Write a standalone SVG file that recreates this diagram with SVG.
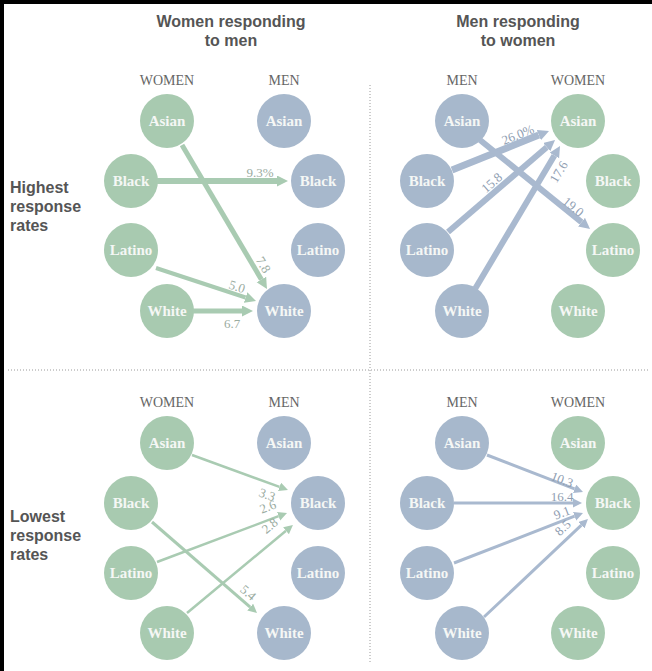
<svg xmlns="http://www.w3.org/2000/svg" width="652" height="671" viewBox="0 0 652 671">
<style>
.hd{font-family:"Liberation Sans",Arial,sans-serif;font-weight:700;font-size:16px;fill:#555;text-anchor:middle}
.side{font-family:"Liberation Sans",Arial,sans-serif;font-weight:700;font-size:16px;fill:#555}
.col{font-family:"Liberation Serif",serif;font-size:14px;fill:#666;text-anchor:middle}
.g circle{fill:#a8cab0}
.b circle{fill:#a7b8cc}
.node text{font-family:"Liberation Serif",serif;font-weight:700;font-size:15px;fill:#f5f7f5;text-anchor:middle}
.ag{stroke:#a9cbb2;fill:none}
.ab{stroke:#a9b9cf;fill:none}
.ng{font-family:"Liberation Serif",serif;font-size:13px;fill:#9aab9f;text-anchor:middle}
.nb{font-family:"Liberation Serif",serif;font-size:13px;fill:#8f9eb2;text-anchor:middle}
.div{stroke:#9a9a9a;stroke-width:1;stroke-dasharray:1 2;fill:none}
</style>
<defs>
<marker id="hgB" markerUnits="userSpaceOnUse" markerWidth="12" markerHeight="12" refX="0" refY="5.5" orient="auto"><path d="M0,0 L11,5.5 L0,11 z" fill="#a9cbb2"/></marker>
<marker id="hbB" markerUnits="userSpaceOnUse" markerWidth="12" markerHeight="12" refX="0" refY="5.5" orient="auto"><path d="M0,0 L11,5.5 L0,11 z" fill="#a9b9cf"/></marker>
<marker id="hgS" markerUnits="userSpaceOnUse" markerWidth="10" markerHeight="10" refX="0" refY="4.5" orient="auto"><path d="M0,0 L9,4.5 L0,9 z" fill="#a9cbb2"/></marker>
<marker id="hbS" markerUnits="userSpaceOnUse" markerWidth="10" markerHeight="10" refX="0" refY="4.5" orient="auto"><path d="M0,0 L9,4.5 L0,9 z" fill="#a9b9cf"/></marker>
</defs>
<rect x="0" y="0" width="652" height="671" fill="#fff"/>
<rect x="0" y="0" width="652" height="4" fill="#000"/>
<rect x="0" y="0" width="4" height="671" fill="#000"/>

<g id="headers">
<text class="hd" x="231" y="27">Women responding</text>
<text class="hd" x="231" y="46">to men</text>
<text class="hd" x="518" y="27">Men responding</text>
<text class="hd" x="518" y="46">to women</text>
<text class="side" x="10" y="193">Highest</text>
<text class="side" x="10" y="212">response</text>
<text class="side" x="10" y="231">rates</text>
<text class="side" x="10" y="522">Lowest</text>
<text class="side" x="10" y="541">response</text>
<text class="side" x="10" y="560">rates</text>
<text class="col" x="167" y="85">WOMEN</text>
<text class="col" x="284" y="85">MEN</text>
<text class="col" x="462" y="85">MEN</text>
<text class="col" x="578" y="85">WOMEN</text>
<text class="col" x="167" y="407">WOMEN</text>
<text class="col" x="284" y="407">MEN</text>
<text class="col" x="462" y="407">MEN</text>
<text class="col" x="578" y="407">WOMEN</text>
</g>

<g id="dividers">
<line class="div" x1="370" y1="85" x2="370" y2="662"/>
<line class="div" x1="8" y1="370" x2="648" y2="370"/>
</g>

<!-- top-left -->
<g id="tl-w-asian" class="node g"><circle cx="167" cy="121" r="27"/><text x="167" y="126">Asian</text></g>
<g id="tl-w-black" class="node g"><circle cx="131" cy="181" r="27"/><text x="131" y="186">Black</text></g>
<g id="tl-w-latino" class="node g"><circle cx="131" cy="250" r="27"/><text x="131" y="255">Latino</text></g>
<g id="tl-w-white" class="node g"><circle cx="167" cy="311" r="27"/><text x="167" y="316">White</text></g>
<g id="tl-m-asian" class="node b"><circle cx="284" cy="121" r="27"/><text x="284" y="126">Asian</text></g>
<g id="tl-m-black" class="node b"><circle cx="318" cy="181" r="27"/><text x="318" y="186">Black</text></g>
<g id="tl-m-latino" class="node b"><circle cx="318" cy="250" r="27"/><text x="318" y="255">Latino</text></g>
<g id="tl-m-white" class="node b"><circle cx="284" cy="311" r="27"/><text x="284" y="316">White</text></g>

<!-- top-right -->
<g id="tr-m-asian" class="node b"><circle cx="462" cy="121" r="27"/><text x="462" y="126">Asian</text></g>
<g id="tr-m-black" class="node b"><circle cx="427" cy="181" r="27"/><text x="427" y="186">Black</text></g>
<g id="tr-m-latino" class="node b"><circle cx="427" cy="250" r="27"/><text x="427" y="255">Latino</text></g>
<g id="tr-m-white" class="node b"><circle cx="462" cy="311" r="27"/><text x="462" y="316">White</text></g>
<g id="tr-w-asian" class="node g"><circle cx="578" cy="121" r="27"/><text x="578" y="126">Asian</text></g>
<g id="tr-w-black" class="node g"><circle cx="613" cy="181" r="27"/><text x="613" y="186">Black</text></g>
<g id="tr-w-latino" class="node g"><circle cx="613" cy="250" r="27"/><text x="613" y="255">Latino</text></g>
<g id="tr-w-white" class="node g"><circle cx="578" cy="311" r="27"/><text x="578" y="316">White</text></g>

<!-- bottom-left -->
<g id="bl-w-asian" class="node g"><circle cx="167" cy="443" r="27"/><text x="167" y="448">Asian</text></g>
<g id="bl-w-black" class="node g"><circle cx="131" cy="503" r="27"/><text x="131" y="508">Black</text></g>
<g id="bl-w-latino" class="node g"><circle cx="131" cy="573" r="27"/><text x="131" y="578">Latino</text></g>
<g id="bl-w-white" class="node g"><circle cx="167" cy="633" r="27"/><text x="167" y="638">White</text></g>
<g id="bl-m-asian" class="node b"><circle cx="284" cy="443" r="27"/><text x="284" y="448">Asian</text></g>
<g id="bl-m-black" class="node b"><circle cx="318" cy="503" r="27"/><text x="318" y="508">Black</text></g>
<g id="bl-m-latino" class="node b"><circle cx="318" cy="573" r="27"/><text x="318" y="578">Latino</text></g>
<g id="bl-m-white" class="node b"><circle cx="284" cy="633" r="27"/><text x="284" y="638">White</text></g>

<!-- bottom-right -->
<g id="br-m-asian" class="node b"><circle cx="462" cy="443" r="27"/><text x="462" y="448">Asian</text></g>
<g id="br-m-black" class="node b"><circle cx="427" cy="503" r="27"/><text x="427" y="508">Black</text></g>
<g id="br-m-latino" class="node b"><circle cx="427" cy="573" r="27"/><text x="427" y="578">Latino</text></g>
<g id="br-m-white" class="node b"><circle cx="462" cy="633" r="27"/><text x="462" y="638">White</text></g>
<g id="br-w-asian" class="node g"><circle cx="578" cy="443" r="27"/><text x="578" y="448">Asian</text></g>
<g id="br-w-black" class="node g"><circle cx="613" cy="503" r="27"/><text x="613" y="508">Black</text></g>
<g id="br-w-latino" class="node g"><circle cx="613" cy="573" r="27"/><text x="613" y="578">Latino</text></g>
<g id="br-w-white" class="node g"><circle cx="578" cy="633" r="27"/><text x="578" y="638">White</text></g>

<g id="connectors">
<!-- top-left -->
<line class="ag" stroke-width="6" x1="157" y1="181" x2="277" y2="181" marker-end="url(#hgB)"/>
<line class="ag" stroke-width="5" x1="182" y1="145" x2="261.4" y2="279.5" marker-end="url(#hgB)"/>
<line class="ag" stroke-width="4" x1="156" y1="268" x2="245.6" y2="297.5" marker-end="url(#hgB)"/>
<line class="ag" stroke-width="5" x1="193" y1="311" x2="242" y2="311" marker-end="url(#hgB)"/>
<!-- top-right -->
<line class="ab" stroke-width="7" x1="452" y1="170" x2="538.8" y2="135.1" marker-end="url(#hbB)"/>
<line class="ab" stroke-width="6" x1="448" y1="232" x2="546.7" y2="147.2" marker-end="url(#hbB)"/>
<line class="ab" stroke-width="6" x1="475" y1="289" x2="554.4" y2="155.5" marker-end="url(#hbB)"/>
<line class="ab" stroke-width="6" x1="480" y1="140" x2="581.5" y2="222.1" marker-end="url(#hbB)"/>
<!-- bottom-left -->
<line class="ag" stroke-width="2.5" x1="192" y1="455" x2="279.5" y2="486.9" marker-end="url(#hgS)"/>
<line class="ag" stroke-width="2.5" x1="157" y1="562" x2="278.6" y2="516.2" marker-end="url(#hgS)"/>
<line class="ag" stroke-width="2.5" x1="187" y1="613" x2="286" y2="530.7" marker-end="url(#hgS)"/>
<line class="ag" stroke-width="3" x1="152" y1="522" x2="250.2" y2="607.1" marker-end="url(#hgS)"/>
<!-- bottom-right -->
<line class="ab" stroke-width="3" x1="487" y1="455" x2="574.6" y2="488.8" marker-end="url(#hbS)"/>
<line class="ab" stroke-width="3" x1="454" y1="503" x2="573" y2="503" marker-end="url(#hbS)"/>
<line class="ab" stroke-width="3" x1="454" y1="563" x2="574.6" y2="516.2" marker-end="url(#hbS)"/>
<line class="ab" stroke-width="3" x1="484" y1="617" x2="581.4" y2="525.2" marker-end="url(#hbS)"/>
</g>

<g id="values">
<text class="ng" x="260" y="177">9.3%</text>
<text class="ng" transform="translate(263,265) rotate(59)" x="0" y="4">7.8</text>
<text class="ng" transform="translate(237,287) rotate(18)" x="0" y="4">5.0</text>
<text class="ng" x="232" y="328">6.7</text>
<text class="nb" transform="translate(518,135) rotate(-22)" x="0" y="4">26.0%</text>
<text class="nb" transform="translate(492,183) rotate(-41)" x="0" y="4">15.8</text>
<text class="nb" transform="translate(559,172) rotate(-59)" x="0" y="4">17.6</text>
<text class="nb" transform="translate(573,207) rotate(39)" x="0" y="4">19.0</text>
<text class="ng" transform="translate(267,495) rotate(20)" x="0" y="4">3.3</text>
<text class="ng" transform="translate(268,507) rotate(-21)" x="0" y="4">2.6</text>
<text class="ng" transform="translate(270,526) rotate(-39)" x="0" y="4">2.8</text>
<text class="ng" transform="translate(248,593) rotate(41)" x="0" y="4">5.4</text>
<text class="nb" transform="translate(562,480) rotate(21)" x="0" y="4">10.3</text>
<text class="nb" x="562" y="501">16.4</text>
<text class="nb" transform="translate(562,513) rotate(-21)" x="0" y="4">9.1</text>
<text class="nb" transform="translate(563,528) rotate(-43)" x="0" y="4">8.5</text>
</g>
</svg>
